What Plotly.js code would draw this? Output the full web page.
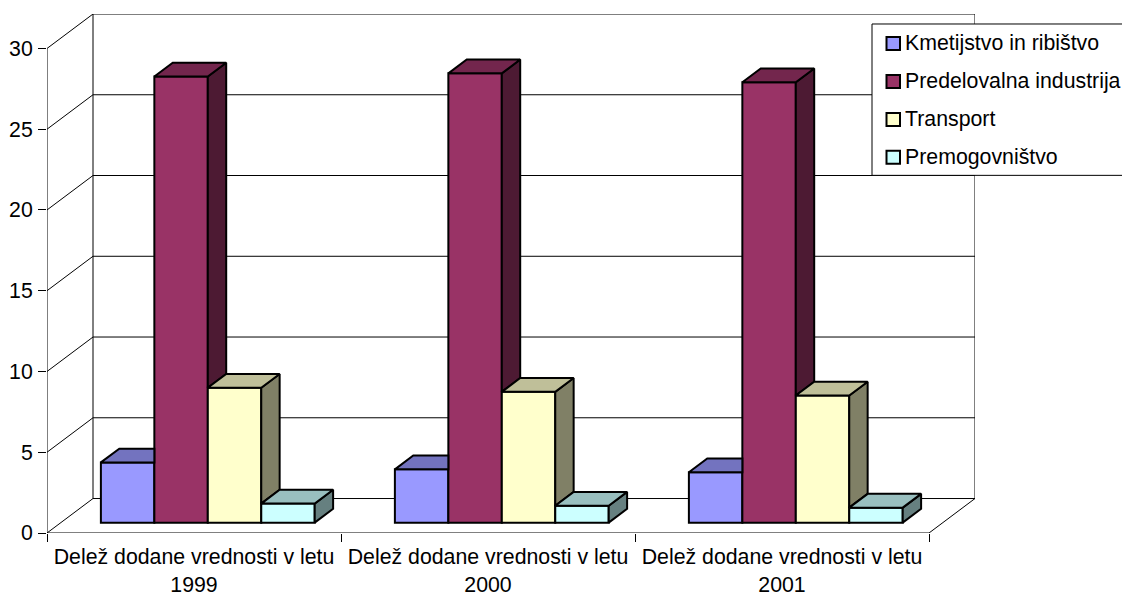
<!DOCTYPE html>
<html>
<head>
<meta charset="utf-8">
<script src="https://cdn.plot.ly/plotly-3.0.1.min.js"></script>
<style>html,body{margin:0;padding:0;background:#fff;overflow:hidden}#chart{width:1122px;height:594px}</style>
</head>
<body>
<div id="chart"></div>
<script>
// ---- data ----
const categories = ["Delež dodane vrednosti v letu","Delež dodane vrednosti v letu","Delež dodane vrednosti v letu"];
const years = ["1999","2000","2001"];
const seriesNames = ["Kmetijstvo in ribištvo","Predelovalna industrija","Transport","Premogovništvo"];
const kmetijstvo = [3.73, 3.3, 3.12];
const predelovalna = [27.62, 27.82, 27.27];
const transport = [8.35, 8.1, 7.87];
const premogovnistvo = [1.18, 1.05, 0.93];
const yTicks = [0,5,10,15,20,25,30];
const frontColors = ["#9999FF","#993366","#FFFFCC","#CCFFFF"];
const topColors = ["#7373BF","#73264D","#BFBF99","#99BFBF"];
const sideColors = ["#4D4D80","#4D1A33","#808066","#668080"];

// ---- geometry of the 3D box, in axis units ----
const allSeries = [kmetijstvo, predelovalna, transport, premogovnistvo];
const L=47, R=975, T=13.5, B=533, W=1122, H=594;
const pxPerCat = 294, pxPerUnit = 485/30;
const DX = 46/pxPerCat, DY = 34.5/pxPerUnit;
const XMAX = 3+DX, YMAX = 30+DY;
const barW = 1/5.5, barStart = 0.75/5.5;
const d0 = 0.3, d1 = 0.7;
const FONT = "Liberation Sans, Arial, sans-serif";
const TXT = "#000000";
const FS = 21.3;

const P = (c,v,d)=>[c+d*DX, v+d*DY];
const poly = (pts, fill)=>({
  type:"scatter", mode:"lines", x:pts.concat([pts[0]]).map(p=>p[0]), y:pts.concat([pts[0]]).map(p=>p[1]),
  fill:"toself", fillcolor:fill, line:{color:"#000",width:2,shape:"linear"}, hoverinfo:"skip", showlegend:false, cliponaxis:false
});

const traces = [];
// front faces: real bars
allSeries.forEach((vals,s)=>{
  traces.push({
    type:"bar", name:seriesNames[s],
    x:vals.map((v,i)=>i+barStart+(s+0.5)*barW+d0*DX),
    y:vals, base:vals.map(()=>d0*DY), width:barW,
    marker:{color:frontColors[s],line:{color:"#000",width:2}},
    showlegend:false, hoverinfo:"skip", cliponaxis:false
  });
});
// top and side faces, hidden parts left out since they are behind the next bar's front
categories.forEach((c,i)=>{
  allSeries.forEach((vals,s)=>{
    const v=vals[i], xl=i+barStart+s*barW, xr=xl+barW;
    const next = s<allSeries.length-1 ? allSeries[s+1][i] : 0;
    if(next<v){
      traces.push(poly([P(xr,v,d0),P(xr,v,d1),P(xr,next,d1),P(xr,next,d0)],sideColors[s]));
      traces.push(poly([P(xl,v,d0),P(xr,v,d0),P(xr,v,d1),P(xl,v,d1)],topColors[s]));
    } else {
      const back=P(xr,v,d1), fr=P(xr,v,d0);
      traces.push(poly([P(xl,v,d0),fr,[fr[0],back[1]],P(xl,v,d1)],topColors[s]));
    }
  });
});

// ---- walls, floor, gridlines ----
const ln=(a,b,extra)=>Object.assign({type:"line",xref:"x",yref:"y",x0:a[0],y0:a[1],x1:b[0],y1:b[1],layer:"below",line:{color:"#000",width:1}},extra||{});
const shapes=[];
yTicks.forEach(t=>{
  shapes.push(ln(P(0,t,1),P(3,t,1)));
  shapes.push(ln(P(0,t,0),P(0,t,1)));
});
shapes.push(ln(P(0,0,0),P(0,30,0)));
shapes.push(ln(P(0,0,1),P(0,30,1)));
shapes.push(ln(P(3,0,1),P(3,30,1)));
shapes.push(ln(P(0,0,0),P(3,0,0)));
shapes.push(ln(P(3,0,0),P(3,0,1)));

// ---- legend box ----
const px=x=>(x-L)/(R-L), py=y=>(B-y)/(B-T);
shapes.push({type:"rect",xref:"paper",yref:"paper",x0:px(872),x1:px(1135),y0:py(175),y1:py(23.5),layer:"above",fillcolor:"#fff",line:{color:"#000",width:1}});
const annotations=[];
const rows=[43,81,119,157];
seriesNames.forEach((n,s)=>{
  shapes.push({type:"rect",xref:"paper",yref:"paper",x0:px(886.5),x1:px(900),y0:py(rows[s]+6.5),y1:py(rows[s]-6.5),layer:"above",fillcolor:frontColors[s],line:{color:"#000",width:2}});
  annotations.push({xref:"paper",yref:"paper",x:px(904.5),y:py(rows[s]),xanchor:"left",yanchor:"middle",showarrow:false,text:n,font:{family:FONT,size:FS,color:TXT},borderpad:0,borderwidth:0});
});

const layout={
  width:W,height:H,autosize:false,showlegend:false,barmode:"overlay",
  paper_bgcolor:"#fff",plot_bgcolor:"rgba(0,0,0,0)",
  margin:{l:L,r:W-R,t:T,b:H-B,pad:0},
  font:{family:FONT,color:TXT,size:FS},
  xaxis:{range:[0,XMAX],showgrid:false,zeroline:false,showline:false,automargin:false,
    tickmode:"array",tickvals:categories.map((c,i)=>i+0.5),ticktext:categories.map((c,i)=>c+"<br>"+years[i]),ticks:"",ticklabelstandoff:9,
    tickfont:{family:FONT,size:FS,color:TXT},
    minor:{tickmode:"array",tickvals:[0,1,2,3],ticks:"outside",ticklen:8,tickwidth:1,tickcolor:"#000",showgrid:false}},
  yaxis:{range:[0,YMAX],showgrid:false,zeroline:false,showline:false,automargin:false,
    tickmode:"array",tickvals:yTicks,ticktext:yTicks.map(String),ticks:"outside",ticklen:8,tickwidth:1,tickcolor:"#000",ticklabelstandoff:1,
    tickfont:{family:FONT,size:FS,color:TXT}},
  shapes,annotations
};
Plotly.newPlot("chart",traces,layout,{staticPlot:true,displayModeBar:false,responsive:false});
</script>
</body>
</html>
